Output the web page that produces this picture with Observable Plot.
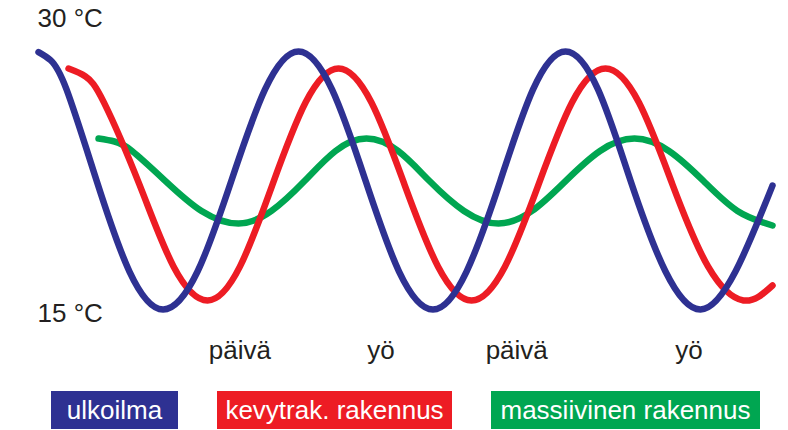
<!DOCTYPE html>
<html>
<head>
<meta charset="utf-8">
<script src="https://cdn.jsdelivr.net/npm/d3@7"></script>
<script src="https://cdn.jsdelivr.net/npm/@observablehq/plot@0.6"></script>
<style>
  body { margin: 0; background: #fff; font-family: "Liberation Sans", Arial, sans-serif; }
  #wrap { position: relative; width: 788px; height: 430px; overflow: hidden; }
  #wrap svg { position: absolute; left: 0; top: 0; }
  .leg { position: absolute; top: 391px; height: 38px; line-height: 38px; color: #fff;
         font-size: 26px; text-align: center; white-space: nowrap; }
</style>
</head>
<body>
<div id="wrap"></div>
<script>
// Series names (legend)
const seriesNames = ["ulkoilma", "kevytrak. rakennus", "massiivinen rakennus"];

// Outdoor air (ulkoilma): time in hours, temperature in °C
const blueHours = [0.0, 1.08, 2.52, 5.22, 8.18, 11.20, 14.30, 17.35, 20.37, 23.38, 26.39, 29.40, 32.42, 35.47, 38.49, 41.54, 44.47, 47.39, 50.31, 53.23, 56.38, 59.53, 62.67, 66.0];
const blueTemps = [28.32, 27.91, 26.42, 21.79, 17.16, 15.23, 17.16, 21.79, 26.42, 28.35, 26.42, 21.79, 17.16, 15.23, 17.16, 21.79, 26.42, 28.35, 26.42, 21.79, 17.16, 15.23, 17.16, 21.53];

// Light-weight building (kevytrak. rakennus)
const redHours = [2.70, 4.23, 5.89, 9.08, 12.14, 15.20, 18.12, 21.04, 24.01, 26.98, 29.94, 32.91, 35.92, 38.94, 41.95, 44.96, 47.97, 50.98, 53.99, 57.01, 60.20, 63.39, 66.0];
const redTemps = [27.48, 27.08, 25.75, 21.58, 17.42, 15.69, 17.42, 21.58, 25.75, 27.48, 25.75, 21.58, 17.42, 15.69, 17.42, 21.58, 25.75, 27.48, 25.75, 21.58, 17.42, 15.69, 16.45];

// Massive building (massiivinen rakennus)
const greenHours = [5.40, 6.83, 8.41, 11.42, 14.66, 17.98, 20.95, 23.92, 26.71, 29.49, 32.33, 35.16, 38.26, 41.36, 44.38, 47.39, 50.49, 53.59, 56.69, 59.80, 62.85, 66.0];
const greenTemps = [23.92, 23.77, 23.29, 21.76, 20.24, 19.60, 20.24, 21.76, 23.29, 23.92, 23.29, 21.76, 20.24, 19.60, 20.24, 21.76, 23.29, 23.92, 23.29, 21.76, 20.24, 19.50];

// Axis-like labels
const tempTicks = [30, 15];
const tempLabels = ["30 °C", "15 °C"];
const timeLabelHours = [18.1, 30.8, 43.0, 58.5];
const timeLabels = ["päivä", "yö", "päivä", "yö"];

const colors = ["#2e3192", "#ed1c24", "#00a651"];

const seriesData = [
  [blueHours, blueTemps],
  [redHours, redTemps],
  [greenHours, greenTemps]
];
const rows = [];
// draw order: green bottom, red, blue on top
[2, 1, 0].forEach(s => {
  const [hs, ts] = seriesData[s];
  hs.forEach((h, i) => rows.push({series: seriesNames[s], h, t: ts[i]}));
});

const tempRows = tempTicks.map((t, i) => ({t, label: tempLabels[i]}));
const timeRows = timeLabelHours.map((h, i) => ({h, label: timeLabels[i]}));

const chart = Plot.plot({
  width: 788,
  height: 370,
  marginTop: 0,
  marginBottom: 20,
  marginLeft: 38,
  marginRight: 16,
  style: {fontFamily: '"Liberation Sans", Arial, sans-serif', background: "#fff"},
  x: {domain: [0, 66], range: [38, 772], axis: null},
  y: {domain: [15, 30], range: [313.5, 18.5], axis: null},
  color: {domain: seriesNames, range: colors},
  marks: [
    Plot.line(rows, {x: "h", y: "t", z: "series", stroke: "series", curve: "natural",
      strokeWidth: 6.5, strokeLinecap: "round", strokeLinejoin: "round"}),
    Plot.text(tempRows, {y: "t", text: "label", frameAnchor: "left", textAnchor: "start",
      dx: -1, fontSize: 26, fill: "#231f20", lineAnchor: "middle"}),
    Plot.text(timeRows, {x: "h", text: "label", frameAnchor: "bottom", lineAnchor: "middle",
      fontSize: 26, fill: "#231f20"})
  ]
});

const wrap = document.getElementById("wrap");
wrap.appendChild(chart);

// Legend boxes below the chart
const legendBoxes = [[51, 127], [217, 235], [491, 269]];
seriesNames.forEach((name, i) => {
  const d = document.createElement("div");
  d.className = "leg";
  d.style.left = legendBoxes[i][0] + "px";
  d.style.width = legendBoxes[i][1] + "px";
  d.style.background = colors[i];
  d.textContent = name;
  wrap.appendChild(d);
});
</script>
</body>
</html>
